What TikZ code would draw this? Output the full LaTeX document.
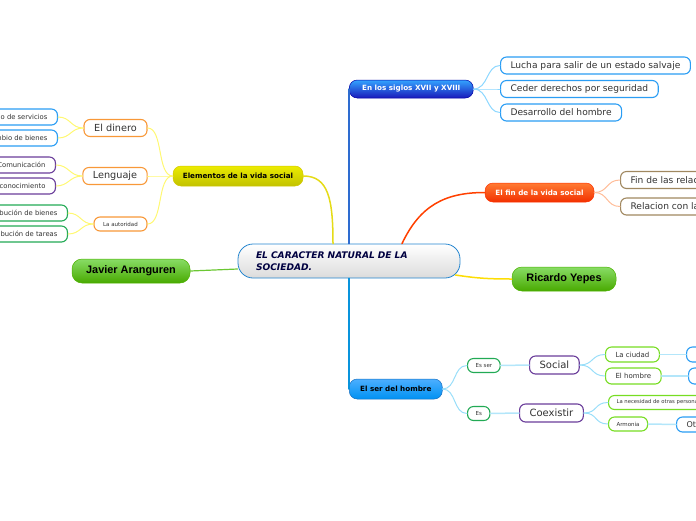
\documentclass[tikz,border=0pt]{standalone}
\usepackage{fontspec}
\setmainfont{DejaVu Sans}
\newfontfamily\arialfont{Liberation Sans}
\usetikzlibrary{calc, positioning}

\definecolor{azulh}{HTML}{2A9DF4}
\definecolor{cafeh}{HTML}{A08860}
\definecolor{naranjah}{HTML}{F89838}
\definecolor{moradoh}{HTML}{6A3D9A}
\definecolor{verdeh}{HTML}{22AA55}
\definecolor{limah}{HTML}{77DD22}
\definecolor{textoh}{HTML}{333333}
\definecolor{azulrama}{HTML}{2E6CD0}

\tikzset{
  tema/.style={draw=azulh!85!black, line width=0.8pt, rounded corners=15pt,
    top color=white, bottom color=gray!28, minimum width=222pt, minimum height=34pt,
    inner xsep=18pt, inner ysep=0pt, text width=186pt, align=left, text=blue!25!black,
    font=\fontsize{9.1}{12}\selectfont\bfseries\itshape},
  rama/.style={rounded corners=8pt, inner sep=0pt, line width=0.5pt,
    font=\fontsize{7.2}{8}\selectfont\bfseries},
  autor/.style={rama, minimum height=24pt, rounded corners=10pt,
    top color=green!55!olive!60, bottom color=green!40!olive!95!black,
    draw=green!40!olive, font=\arialfont\fontsize{10.9}{12}\selectfont\bfseries},
  hoja/.style={draw=#1, fill=white, line width=1.1pt, rounded corners=6pt,
    inner xsep=10pt, inner ysep=0pt, minimum height=17pt, text=textoh,
    font=\fontsize{9.1}{10}\selectfont},
  hojita/.style={hoja=#1, minimum height=14pt, inner xsep=8pt,
    font=\fontsize{5.5}{6}\selectfont},
  hojaizq/.style={hoja=#1, minimum height=16pt, font=\fontsize{6.8}{8}\selectfont},
  enlace/.style={line width=#1, line cap=round},
  enlace/.default=1pt
}

\begin{document}
\begin{tikzpicture}[x=1pt, y=-1pt]
    \useasboundingbox (0,0) rectangle (696,520);

    % 1. Tema central y ramas principales
    \node[tema] (central) at (349,261) {EL CARACTER NATURAL DE LA\\SOCIEDAD.};
    \node[rama, anchor=west, minimum width=124pt, minimum height=18pt, text=white,
        top color=blue!45!cyan!80, bottom color=blue!70!black!90, draw=blue!65!black]
        (siglos) at (349,89) {En los siglos XVII y XVIII};
    \node[rama, minimum width=109pt, minimum height=19pt, text=white,
        top color=orange!70!red!80, bottom color=red!60!orange!95!black, draw=red!60!orange]
        (fin) at (539.5,192.5) {El fin de la vida social};
    \node[rama, minimum width=130pt, minimum height=20pt,
        top color=yellow!85!olive, bottom color=yellow!60!olive!95!black, draw=yellow!60!olive]
        (elementos) at (238,176) {Elementos de la vida social};
    \node[rama, anchor=west, minimum width=93pt, minimum height=20pt,
        top color=cyan!55!blue!70, bottom color=cyan!60!blue!95!black, draw=cyan!50!blue]
        (ser) at (349,389) {El ser del hombre};
    \node[autor, minimum width=118pt] (javier) at (131,271) {Javier Aranguren};
    \node[autor, minimum width=104pt] (ricardo) at (564,279) {Ricardo Yepes};

    \draw[enlace=1.5pt, azulrama] (central.north) -- (siglos.west);
    \draw[enlace=1.5pt, cyan!80!blue] (central.south) -- (ser.west);
    \draw[enlace=1.5pt, orange!50!red] ($(central.north)+(53,0)$)
        .. controls +(18,-38) and +(-40,0) .. (fin.west);
    \draw[enlace=1.5pt, yellow!80!orange] ($(central.east)+(-5,14)$)
        .. controls +(20,3) and +(-25,0) .. (ricardo.west);
    \draw[enlace=1.5pt, yellow!75!olive!90] ($(central.north)+(-16,0)$)
        .. controls +(0,-45) and +(25,0) .. (elementos.east);
    \draw[enlace=1.2pt, green!45!olive!80] ($(central.west)+(0,8)$) -- (javier.east);

    % 2. En los siglos XVII y XVIII
    \node[hoja=azulh, anchor=west] (lucha) at (500,65.5) {Lucha para salir de un estado salvaje};
    \node[hoja=azulh, anchor=west] (ceder) at (500,89) {Ceder derechos por seguridad};
    \node[hoja=azulh, anchor=west] (desarrollo) at (500,112.5) {Desarrollo del hombre};
    \foreach \h in {lucha,ceder,desarrollo}
        \draw[enlace, blue!35!cyan!45] (siglos.east) .. controls +(15,0) and +(-14,0) .. (\h.west);

    % 3. El fin de la vida social
    \node[hoja=cafeh, anchor=west] (relaciones) at (620,180) {Fin de las relaciones};
    \node[hoja=cafeh, anchor=west] (relacion) at (620,206.5) {Relacion con la sociedad};
    \foreach \h in {relaciones,relacion}
        \draw[enlace, red!30!orange!40] (fin.east) .. controls +(14,0) and +(-14,0) .. (\h.west);

    % 4. Elementos de la vida social
    \node[hoja=naranjah, minimum width=63pt, font=\fontsize{9.7}{10}\selectfont] (dinero) at (115.5,128) {El dinero};
    \node[hoja=naranjah, minimum width=64pt, font=\fontsize{9.7}{10}\selectfont] (lenguaje) at (115,176) {Lenguaje};
    \node[hojita=naranjah, minimum width=53pt] (autoridad) at (120.5,224) {La autoridad};
    \foreach \h in {dinero,lenguaje,autoridad}
        \draw[enlace, yellow!55] (elementos.west) .. controls +(-16,0) and +(16,0) .. (\h.east);

    \node[hojaizq=azulh, anchor=east] (servicios) at (58,117) {Intercambio de servicios};
    \node[hojaizq=azulh, anchor=east] (bienes) at (58,138) {Intercambio de bienes};
    \node[hojaizq=moradoh, anchor=east] (comunicacion) at (56,165) {Comunicación};
    \node[hojaizq=moradoh, anchor=east] (conocimiento) at (56,186) {Transmisión de conocimiento};
    \node[hojaizq=verdeh, anchor=east] (distbienes) at (68,213) {Distribución de bienes};
    \node[hojaizq=verdeh, anchor=east] (tareas) at (68,234) {Distribución de tareas};
    \foreach \p/\h in {dinero/servicios, dinero/bienes, lenguaje/comunicacion,
        lenguaje/conocimiento, autoridad/distbienes, autoridad/tareas}
        \draw[enlace, yellow!55] (\p.west) .. controls +(-13,0) and +(13,0) .. (\h.east);

    % 5. El ser del hombre
    \node[hojita=verdeh, anchor=west] (esser) at (467,365.5) {Es ser};
    \node[hojita=verdeh, anchor=west] (es) at (467,413.5) {Es};
    \node[hoja=moradoh, anchor=west, minimum height=18pt, font=\fontsize{10}{11}\selectfont] (social) at (529,365) {Social};
    \node[hoja=moradoh, anchor=west, minimum height=18pt, font=\fontsize{10}{11}\selectfont] (coexistir) at (519,413) {Coexistir};
    \node[hoja=limah, anchor=west, minimum height=15pt, font=\fontsize{7}{8}\selectfont] (ciudad) at (605,354.5) {La ciudad};
    \node[hoja=limah, anchor=west, minimum height=16pt, font=\fontsize{7}{8}\selectfont] (hombre) at (605,376) {El hombre};
    \node[hojita=limah, anchor=west, font=\fontsize{5.3}{6}\selectfont] (necesidad) at (608,402.5) {La necesidad de otras personas};
    \node[hojita=limah, anchor=west] (armonia) at (608,424) {Armonia};
    \node[hoja=azulh, anchor=west, minimum width=40pt, minimum height=15pt] (azula) at (686,354.5) {};
    \node[hoja=azulh, anchor=west, minimum width=40pt, minimum height=16pt] (azulb) at (688,376) {};
    \node[hoja=azulh, anchor=west, minimum height=15pt, font=\fontsize{8}{8}\selectfont] (otros) at (676,424.5) {Otros};

    \foreach \h in {esser,es}
        \draw[enlace, cyan!40] (ser.east) .. controls +(14,0) and +(-14,0) .. (\h.west);
    \foreach \p/\h in {social/ciudad, social/hombre, coexistir/necesidad, coexistir/armonia}
        \draw[enlace, cyan!40] (\p.east) .. controls +(14,0) and +(-14,0) .. (\h.west);
    \foreach \p/\h in {esser/social, es/coexistir, ciudad/azula, hombre/azulb, armonia/otros}
        \draw[enlace=1.5pt, cyan!30] (\p.east) -- (\h.west);
\end{tikzpicture}
\end{document}
